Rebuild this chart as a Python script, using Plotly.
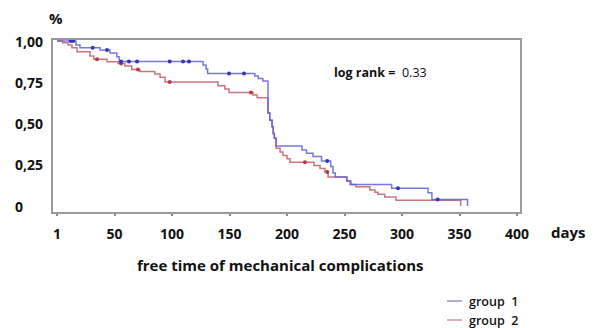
import plotly.graph_objects as go

# ---- data ----
blue_t = [0, 16.5, 20, 37.4, 46, 52, 54, 127, 129.6, 131, 172, 175, 179, 183.5, 185, 187, 188, 189, 190.5,
          213, 217, 222.6, 230, 238, 240, 242, 252, 255.6, 291, 322.6, 326, 357]
blue_s = [1.0, 0.976, 0.959, 0.945, 0.927, 0.905, 0.876, 0.855, 0.83, 0.803, 0.788, 0.773, 0.758, 0.564, 0.52,
          0.48, 0.44, 0.41, 0.364, 0.34, 0.32, 0.30, 0.273, 0.24, 0.20, 0.176, 0.152, 0.13, 0.107, 0.08, 0.04, 0.0]
blue_ct = [12, 14, 31, 43.5, 55.7, 62.6, 69.6, 98, 109.6, 114.8, 149.6, 162.6, 235, 296.5, 331]
blue_cs = [1.0, 1.0, 0.959, 0.945, 0.876, 0.876, 0.876, 0.876, 0.876, 0.876, 0.803, 0.803, 0.273, 0.107, 0.04]

red_t = [0, 5, 9.6, 13, 17.4, 28.7, 32, 43.5, 53, 59, 65, 72, 85, 89.6, 94, 140, 146, 149.6, 170.4, 174,
         183.5, 185, 187, 188, 189, 190.5, 194, 196.5, 200, 202.6, 223.5, 228.7, 233, 235.7, 252, 254.8, 260,
         272, 276.5, 279, 285, 294.8, 351]
red_s = [1.0, 0.99, 0.976, 0.959, 0.935, 0.909, 0.889, 0.875, 0.864, 0.848, 0.828, 0.815, 0.80, 0.78, 0.752,
         0.729, 0.709, 0.688, 0.673, 0.656, 0.564, 0.52, 0.48, 0.44, 0.41, 0.35, 0.327, 0.306, 0.286, 0.265,
         0.245, 0.228, 0.206, 0.176, 0.152, 0.131, 0.117, 0.097, 0.083, 0.071, 0.055, 0.035, 0.0]
red_ct = [34.8, 55.7, 70.4, 98, 168.7, 215.6, 235]
red_cs = [0.889, 0.864, 0.828, 0.752, 0.688, 0.265, 0.206]

x_tickvals = [0, 50, 100, 150, 200, 250, 300, 350, 400]
x_ticktext = ["1", "50", "100", "150", "200", "250", "300", "350", "400"]
y_tickvals = [1.0, 0.75, 0.5, 0.25, 0.0]
y_ticktext = ["1,00", "0,75", "0,50", "0,25", "0"]
series_names = ["group  1", "group  2"]
log_rank = "0.33"

BLUE_LINE = "rgba(95,95,215,0.85)"
BLUE_MARK = "#3535b8"
RED_LINE = "rgba(200,100,115,0.9)"
RED_MARK = "#b83848"
FONT = "Open Sans"

fig = go.Figure()
fig.add_trace(go.Scatter(x=red_t, y=red_s, mode="lines", line=dict(color=RED_LINE, width=1.5, shape="hv"),
                         showlegend=False, hoverinfo="skip"))
fig.add_trace(go.Scatter(x=red_ct, y=red_cs, mode="markers", marker=dict(color=RED_MARK, size=4),
                         showlegend=False, hoverinfo="skip"))
fig.add_trace(go.Scatter(x=blue_t, y=blue_s, mode="lines", line=dict(color=BLUE_LINE, width=1.5, shape="hv"),
                         showlegend=False, hoverinfo="skip"))
fig.add_trace(go.Scatter(x=blue_ct, y=blue_cs, mode="markers", marker=dict(color=BLUE_MARK, size=4),
                         showlegend=False, hoverinfo="skip"))

L, R, T, B = 53, 83, 40, 116
W, H = 603, 328
pw, ph = W - L - R, H - T - B

def px(xp):
    return (xp - L) / pw

def py(yp):
    return (H - B - yp) / ph

annotations = []
for v, t in zip(y_tickvals, y_ticktext):
    annotations.append(dict(x=px(13), xref="paper", y=v, yref="y", text=t, showarrow=False,
                            xanchor="left", yanchor="middle",
                            font=dict(family=FONT, size=14, color="#111", weight="bold")))
annotations += [
    dict(x=px(56), y=py(18), xref="paper", yref="paper", text="%", showarrow=False,
         xanchor="center", yanchor="middle", font=dict(family=FONT, size=15, color="#111", weight="bold")),
    dict(x=px(549), y=py(232), xref="paper", yref="paper", text="days", showarrow=False,
         xanchor="left", yanchor="middle", font=dict(family=FONT, size=15, color="#111", weight="bold")),
    dict(x=px(280), y=py(265), xref="paper", yref="paper", text="free time of mechanical complications",
         showarrow=False, xanchor="center", yanchor="middle",
         font=dict(family=FONT, size=15, color="#111", weight="bold")),
    dict(x=px(380), y=py(72), xref="paper", yref="paper", text="<b>log rank =</b>  " + log_rank,
         showarrow=False, xanchor="center", yanchor="middle",
         font=dict(family=FONT, size=12.5, color="#111")),
]
shapes = []
leg_cols = ["rgba(120,120,210,0.8)", "rgba(210,120,135,0.8)"]
for i, (name, c) in enumerate(zip(series_names, leg_cols)):
    yy = 301 + 19 * i
    shapes.append(dict(type="line", xref="paper", yref="paper", x0=px(447), x1=px(462), y0=py(yy), y1=py(yy),
                       line=dict(color=c, width=1.5)))
    annotations.append(dict(x=px(467), y=py(yy), xref="paper", yref="paper", text=name, showarrow=False,
                            xanchor="left", yanchor="middle",
                            font=dict(family=FONT, size=12.5, color="#111", weight=600)))

x0 = -(57 - L) / 1.15
x1 = (W - R - 57) / 1.15
y_top = 1 + (41 - T) / 165
y_bot = -(H - B - 206) / 165

fig.update_layout(
    width=W, height=H, margin=dict(l=L, r=R, t=T, b=B),
    paper_bgcolor="white", plot_bgcolor="white",
    xaxis=dict(range=[x0, x1], tickvals=x_tickvals, ticktext=x_ticktext, showgrid=False, zeroline=False,
               showline=True, mirror=True, linecolor="#9a9a9a", linewidth=2,
               ticks="outside", ticklen=2, tickwidth=1.5, tickcolor="#888",
               ticklabelstandoff=6,
               tickfont=dict(family=FONT, size=14, color="#111", weight="bold")),
    yaxis=dict(range=[y_bot, y_top], tickvals=y_tickvals, showticklabels=False, showgrid=False, zeroline=False,
               showline=True, mirror=True, linecolor="#9a9a9a", linewidth=2, ticks=""),
    annotations=annotations, shapes=shapes, showlegend=False, hovermode=False,
)
fig.write_html("out.html", config={"displayModeBar": False},
               post_script="document.body.style.margin='0';document.body.style.overflow='hidden';")
